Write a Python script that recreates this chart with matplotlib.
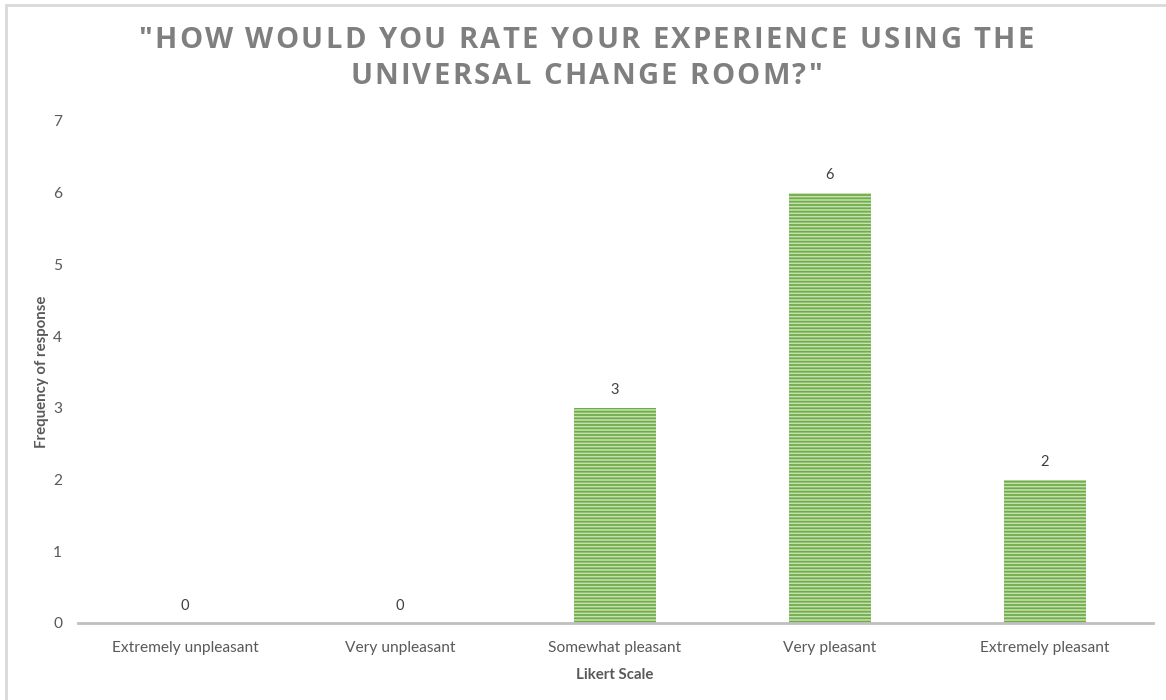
import matplotlib
matplotlib.use("Agg")
import matplotlib.pyplot as plt
from matplotlib.font_manager import FontProperties
from matplotlib.patches import Rectangle

categories = ["Extremely unpleasant", "Very unpleasant", "Somewhat pleasant",
              "Very pleasant", "Extremely pleasant"]
counts = [0, 0, 3, 6, 2]
y_ticks = [0, 1, 2, 3, 4, 5, 6, 7]
title_lines = ['"HOW WOULD YOU RATE YOUR EXPERIENCE USING THE',
               'UNIVERSAL CHANGE ROOM?"']
x_label = "Likert Scale"
y_label = "Frequency of response"

W, H = 1166, 700
fig = plt.figure(figsize=(W / 100, H / 100), dpi=100)
fig.patch.set_facecolor("white")

# chart frame (top and left edges visible)
fig.add_artist(Rectangle((6 / W, -0.05), 1.1, (H - 5) / H + 0.05,
                         transform=fig.transFigure, fill=False,
                         edgecolor="#d9d9d9", linewidth=2))

ax = fig.add_axes([77.5 / W, (H - 623) / H, (1152.5 - 77.5) / W, (623 - 121) / H])

plt.rcParams["hatch.linewidth"] = 1.3
x = list(range(len(categories)))
bars = ax.bar(x, counts, width=0.38, color="#c6e0b4", edgecolor="#70ad47",
              hatch="-----", linewidth=0)

for xi, v in zip(x, counts):
    ax.annotate(str(v), (xi, v), xytext=(0, 7.5), textcoords="offset points",
                ha="center", va="bottom", fontsize=10.5, color="#404040",
                family="Lato")

ax.set_xlim(-0.5, len(categories) - 0.5)
ax.set_ylim(0, 7)
ax.set_yticks(y_ticks)
ax.set_xticks(x)
ax.set_xticklabels(categories)
for s in ["top", "right", "left"]:
    ax.spines[s].set_visible(False)
ax.spines["bottom"].set_color("#bfbfbf")
ax.spines["bottom"].set_linewidth(2)
ax.tick_params(axis="both", length=0, labelsize=11.2, labelcolor="#595959")
ax.tick_params(axis="x", pad=13)
ax.tick_params(axis="y", pad=11)
for lab in ax.get_xticklabels() + ax.get_yticklabels():
    lab.set_family("Lato")

ax.set_xlabel(x_label, fontsize=10.8, fontweight="bold", color="#595959",
              family="Lato", labelpad=9)
ax.set_ylabel(y_label, fontsize=10.8, fontweight="bold", color="#595959",
              family="Lato", labelpad=3)

# title with wide letter spacing, placed character by character
renderer = fig.canvas.get_renderer()
tprop = FontProperties(family="Open Sans", weight="bold", size=21)
target_width = 895
line_centers_y = [40, 77]


def char_widths(line):
    out = []
    for ch in line:
        if ch == " ":
            w, _, _ = renderer.get_text_width_height_descent("a a", tprop, ismath=False)
            w2, _, _ = renderer.get_text_width_height_descent("aa", tprop, ismath=False)
            out.append(w - w2)
        else:
            w, _, _ = renderer.get_text_width_height_descent(ch, tprop, ismath=False)
            out.append(w)
    return out


first = char_widths(title_lines[0])
tracking = (target_width - sum(first)) / (len(title_lines[0]) - 1)

for line, yc in zip(title_lines, line_centers_y):
    widths = char_widths(line)
    total = sum(widths) + tracking * (len(line) - 1)
    xpos = W / 2 + 3 - total / 2
    for ch, w in zip(line, widths):
        if ch != " ":
            fig.text(xpos / W, 1 - yc / H, ch, fontproperties=tprop,
                     color="#7f7f7f", ha="left", va="center")
        xpos += w + tracking

fig.savefig("out.png", dpi=100, facecolor="white")
